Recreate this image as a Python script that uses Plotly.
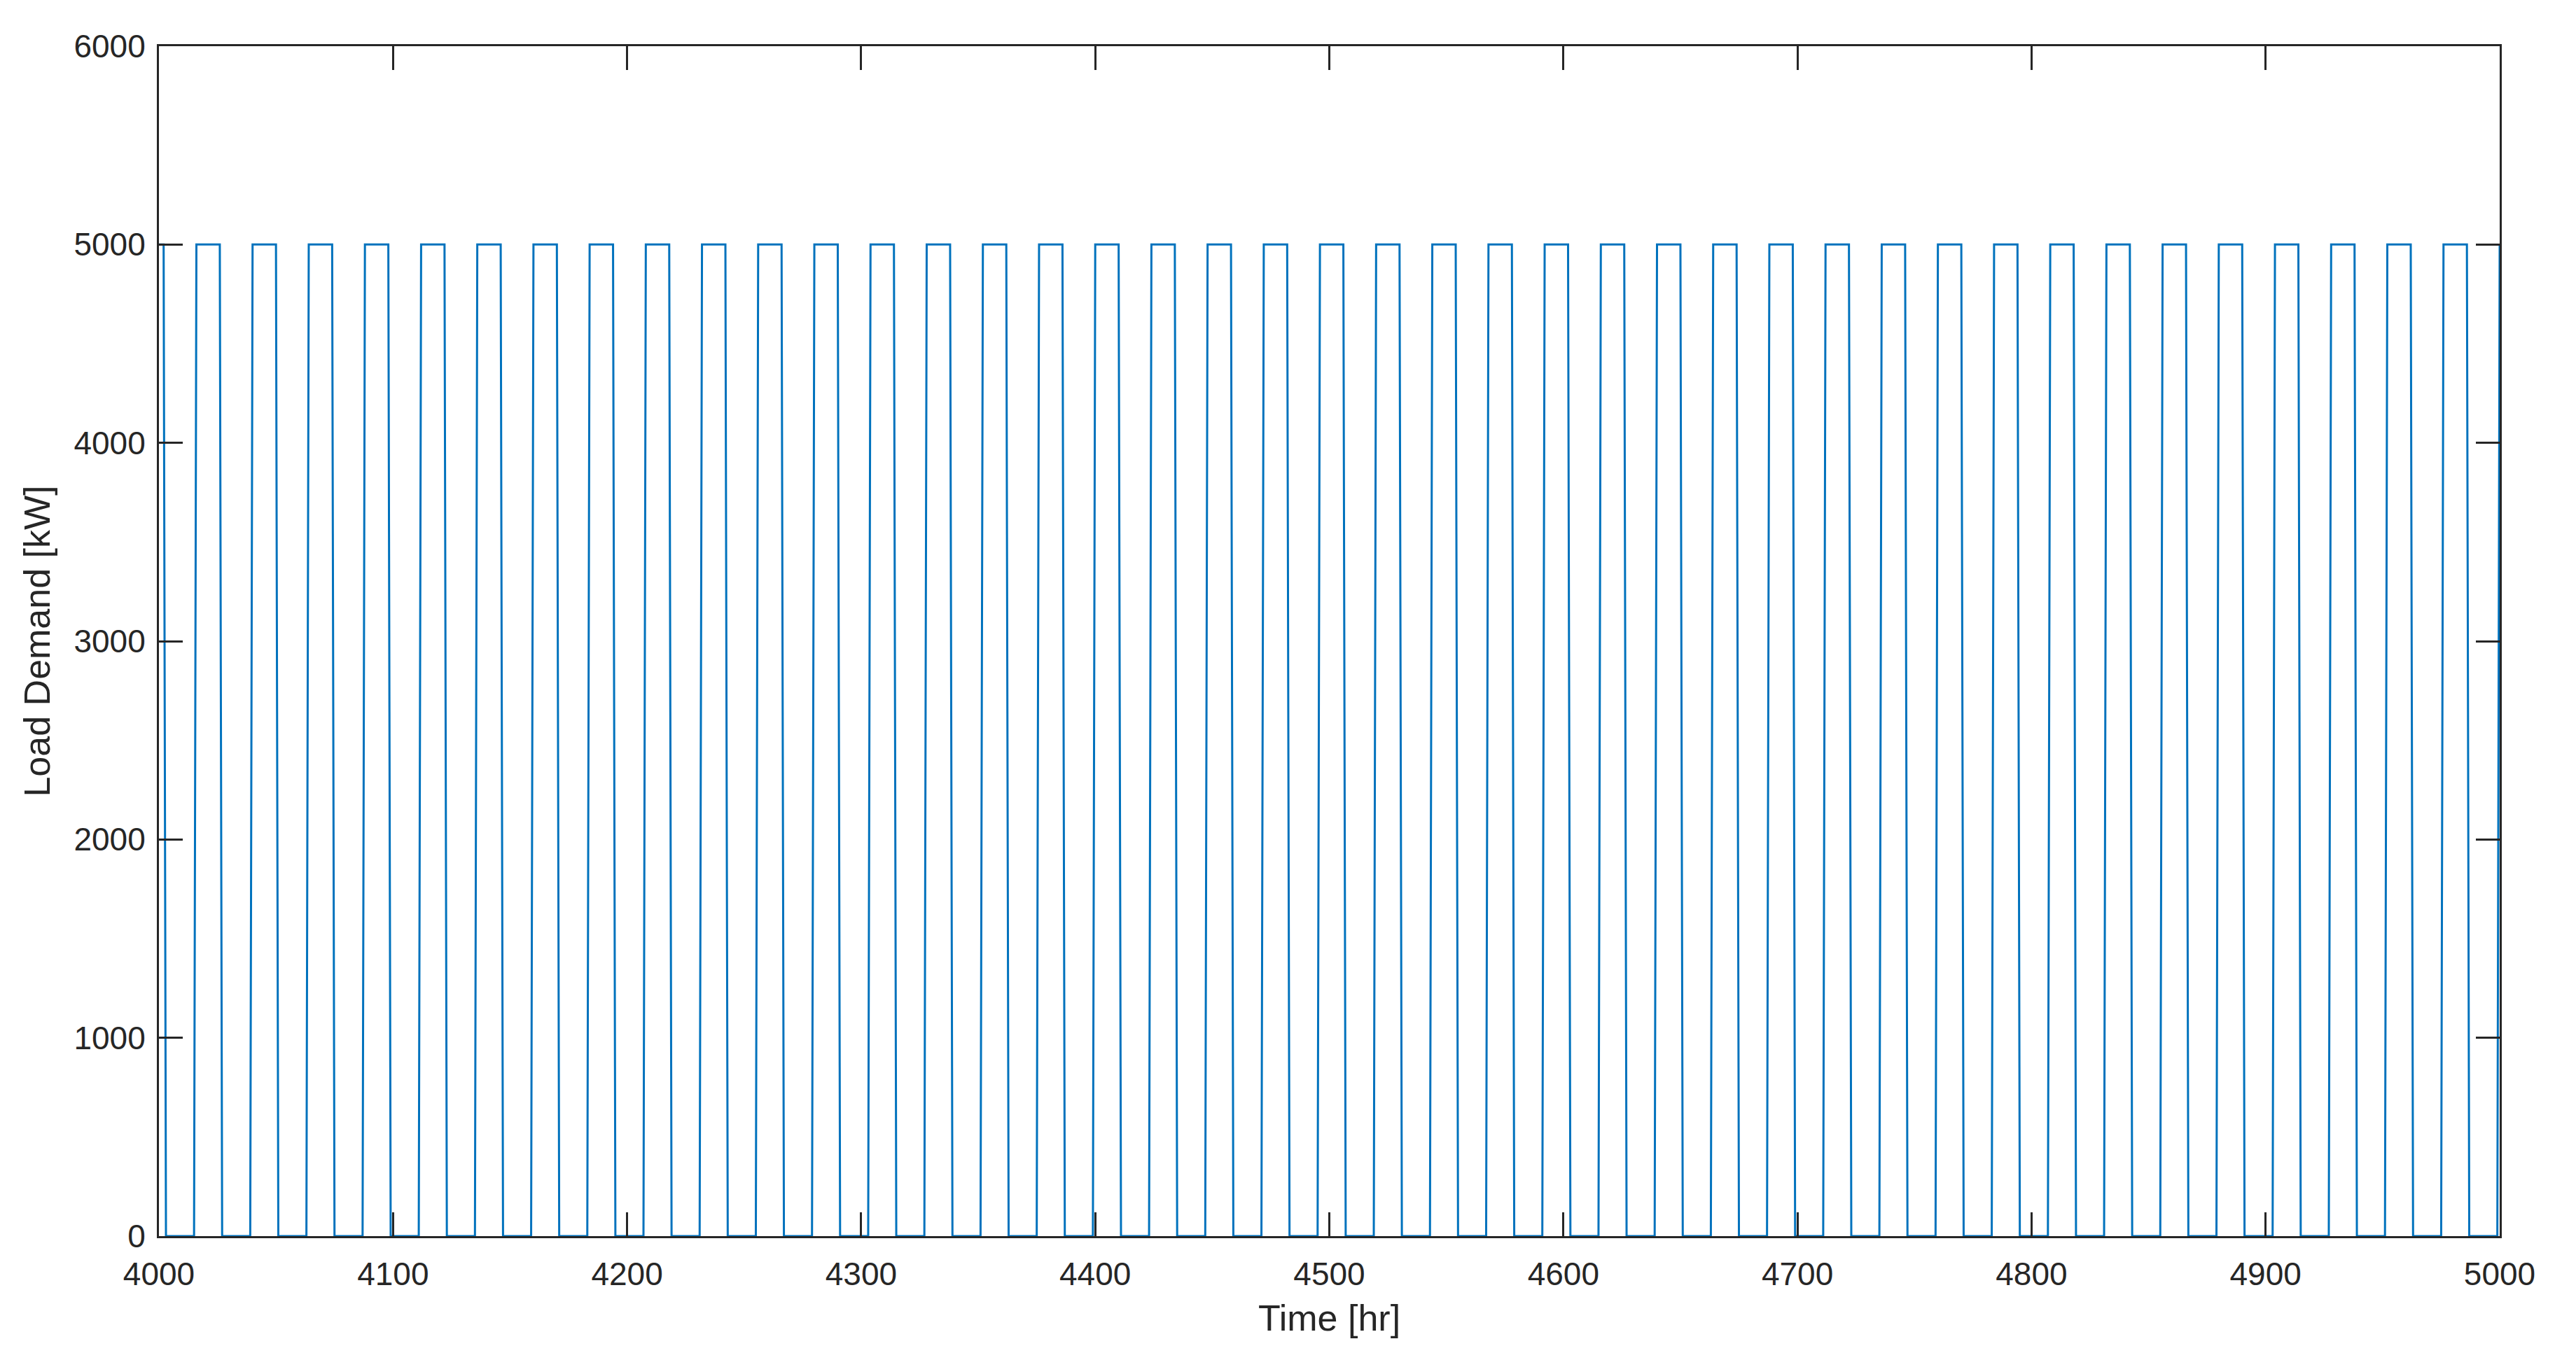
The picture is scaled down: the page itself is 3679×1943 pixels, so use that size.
import plotly.graph_objects as go

# Hours at which each load pulse first reaches 5000 kW and last hour at 5000 kW
pulse_start = [4000, 4016, 4040, 4064, 4088, 4112, 4136, 4160, 4184, 4208, 4232,
               4256, 4280, 4304, 4328, 4352, 4376, 4400, 4424, 4448, 4472, 4496,
               4520, 4544, 4568, 4592, 4616, 4640, 4664, 4688, 4712, 4736, 4760,
               4784, 4808, 4832, 4856, 4880, 4904, 4928, 4952, 4976, 5000]
pulse_end = [4002, 4026, 4050, 4074, 4098, 4122, 4146, 4170, 4194, 4218, 4242,
             4266, 4290, 4314, 4338, 4362, 4386, 4410, 4434, 4458, 4482, 4506,
             4530, 4554, 4578, 4602, 4626, 4650, 4674, 4698, 4722, 4746, 4770,
             4794, 4818, 4842, 4866, 4890, 4914, 4938, 4962, 4986, 5000]
high_load = 5000
low_load = 0
t_min, t_max = 4000, 5000

x_ticks = [4000, 4100, 4200, 4300, 4400, 4500, 4600, 4700, 4800, 4900, 5000]
y_ticks = [0, 1000, 2000, 3000, 4000, 5000, 6000]

# Build the hourly polyline vertices from the pulse table
xs, ys = [], []
for s, e in zip(pulse_start, pulse_end):
    if s > t_min:
        xs.append(s - 1); ys.append(low_load)
    xs.append(s); ys.append(high_load)
    if e != s:
        xs.append(e); ys.append(high_load)
    if e < t_max:
        xs.append(e + 1); ys.append(low_load)

fig = go.Figure()
fig.add_trace(go.Scatter(x=xs, y=ys, mode="lines",
                         line=dict(color="#0072BD", width=3),
                         showlegend=False))

font_family = "Liberation Sans, Arial, Helvetica, sans-serif"
axis_color = "#262626"

fig.update_layout(
    width=3679, height=1943,
    paper_bgcolor="white", plot_bgcolor="white",
    margin=dict(l=219, r=117, t=58, b=185),
    font=dict(family=font_family, color=axis_color, size=46),
)
fig.update_xaxes(
    range=[t_min, t_max], tickvals=x_ticks, ticktext=[str(v) for v in x_ticks],
    showgrid=False, zeroline=False, automargin=False,
    showline=True, linecolor=axis_color, linewidth=3, mirror="ticks",
    ticks="inside", ticklen=34, tickwidth=3, tickcolor=axis_color,
    tickfont=dict(size=46, family=font_family, color=axis_color),
    ticklabelstandoff=12,
    title=dict(text="Time [hr]", font=dict(size=52, family=font_family, color=axis_color), standoff=20),
)
fig.update_yaxes(
    range=[0, 6000], tickvals=y_ticks, ticktext=[str(v) for v in y_ticks],
    showgrid=False, zeroline=False, automargin=False,
    showline=True, linecolor=axis_color, linewidth=3, mirror="ticks",
    ticks="inside", ticklen=34, tickwidth=3, tickcolor=axis_color,
    tickfont=dict(size=46, family=font_family, color=axis_color),
    ticklabelstandoff=7,
    title=dict(text="Load Demand [kW]", font=dict(size=52, family=font_family, color=axis_color), standoff=18),
)

fig.write_html("out.html")
